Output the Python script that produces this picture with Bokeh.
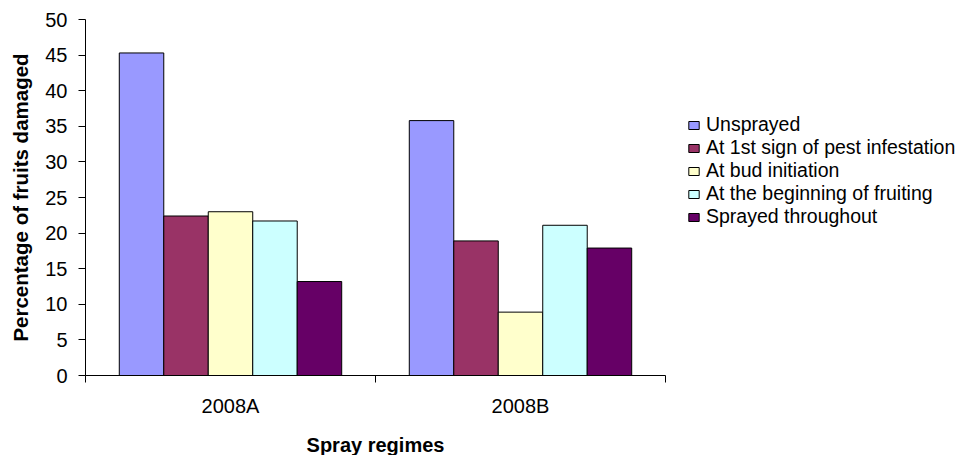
from bokeh.plotting import figure
from bokeh.models import ColumnDataSource, FixedTicker, Legend, LegendItem, Range1d
from bokeh.embed import file_html
from bokeh.resources import INLINE

# ---- data ----
years = ["2008A", "2008B"]
regimes = ["Unsprayed", "At 1st sign of pest infestation", "At bud initiation",
           "At the beginning of fruiting", "Sprayed throughout"]
unsprayed = [45.3, 35.8]
first_sign = [22.4, 18.9]
bud_init = [23.0, 8.9]
fruiting = [21.7, 21.1]
throughout = [13.2, 17.9]
series = [unsprayed, first_sign, bud_init, fruiting, throughout]
colors = ["#9999FF", "#993366", "#FFFFCC", "#CCFFFF", "#660066"]
y_ticks = list(range(0, 51, 5))

FONT = "Liberation Sans"
bar_w = 0.1534

p = figure(frame_width=580, frame_height=356, output_backend="svg", toolbar_location=None,
           x_range=Range1d(0, len(years)), y_range=Range1d(0, 50),
           min_border_left=85, min_border_right=307, min_border_top=19,
           min_border_bottom=80, background_fill_color="white",
           border_fill_color="white", outline_line_color=None)
p.grid.visible = False

items = []
n = len(regimes)
for j, (name, vals, col) in enumerate(zip(regimes, series, colors)):
    xs = [i + 0.5 + (j - (n - 1) / 2) * bar_w for i in range(len(years))]
    src = ColumnDataSource(dict(x=xs, top=vals))
    r = p.vbar(x="x", top="top", bottom=0, width=bar_w, source=src,
               fill_color=col, line_color="black", line_width=1)
    items.append(LegendItem(label=name, renderers=[r]))

# x axis
xa = p.xaxis[0]
xa.ticker = FixedTicker(ticks=[i + 0.5 for i in range(len(years))],
                        minor_ticks=list(range(len(years) + 1)))
xa.major_label_overrides = {i + 0.5: y for i, y in enumerate(years)}
xa.major_tick_line_color = None
xa.major_tick_out = 0
xa.major_tick_in = 0
xa.minor_tick_line_color = "black"
xa.minor_tick_out = 7
xa.minor_tick_in = 0
xa.axis_line_color = "black"
xa.major_label_text_font = FONT
xa.major_label_text_font_size = "20px"
xa.major_label_text_color = "black"
xa.major_label_text_line_height = 1.0
xa.major_label_standoff = 12
xa.axis_label = "Spray regimes"
xa.axis_label_text_font = FONT
xa.axis_label_text_font_size = "20px"
xa.axis_label_text_font_style = "bold"
xa.axis_label_text_color = "black"
xa.axis_label_text_line_height = 0.7
xa.axis_label_standoff = 14

# y axis
ya = p.yaxis[0]
ya.ticker = FixedTicker(ticks=y_ticks)
ya.major_tick_out = 7
ya.major_tick_in = 0
ya.major_tick_line_color = "black"
ya.minor_tick_line_color = None
ya.axis_line_color = "black"
ya.major_label_text_font = FONT
ya.major_label_text_font_size = "20px"
ya.major_label_text_color = "black"
ya.major_label_standoff = 11
ya.axis_label = "Percentage of fruits damaged"
ya.axis_label_text_font = FONT
ya.axis_label_text_font_size = "20.5px"
ya.axis_label_text_font_style = "bold"
ya.axis_label_text_color = "black"
ya.axis_label_standoff = 10

legend = Legend(items=items, location=(22, 147), border_line_color=None,
                background_fill_alpha=0, padding=0, margin=0, spacing=0,
                glyph_width=13, glyph_height=10, label_standoff=6,
                label_height=20, label_text_font=FONT,
                label_text_font_size="19.5px", label_text_color="black")
p.add_layout(legend, "right")

open("out.html", "w").write(file_html(p, INLINE))
